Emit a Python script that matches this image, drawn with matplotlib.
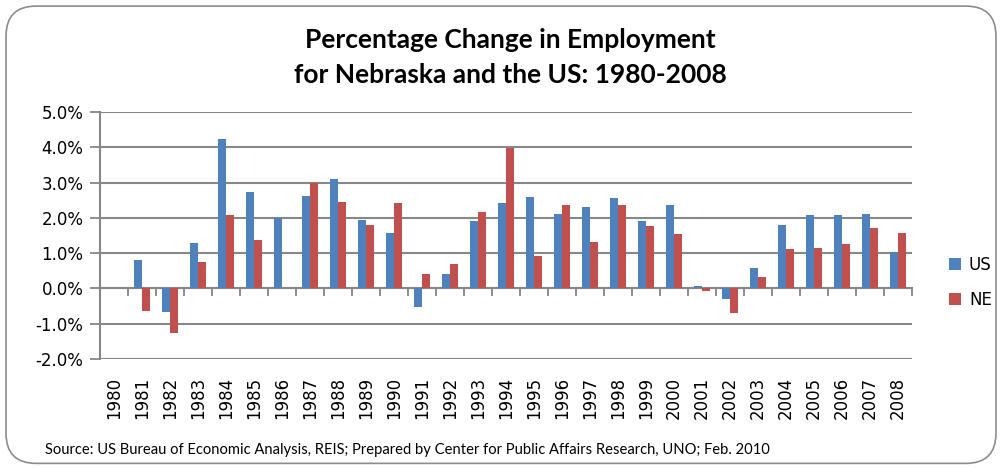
import matplotlib
matplotlib.use("Agg")
import matplotlib.pyplot as plt
from matplotlib.patches import FancyBboxPatch, Patch
from matplotlib.ticker import FuncFormatter
import numpy as np

years = list(range(1980, 2009))
us = [0.00, 0.80, -0.68, 1.28, 4.23, 2.72, 1.99, 2.62, 3.10, 1.94,
      1.58, -0.53, 0.40, 1.90, 2.43, 2.58, 2.11, 2.31, 2.55, 1.92,
      2.37, 0.08, -0.29, 0.58, 1.81, 2.08, 2.07, 2.11, 1.04]
ne = [0.00, -0.63, -1.25, 0.75, 2.09, 1.38, 0.00, 2.99, 2.46, 1.81,
      2.43, 0.42, 0.69, 2.17, 3.98, 0.92, 2.37, 1.33, 2.37, 1.76,
      1.54, -0.07, -0.69, 0.32, 1.12, 1.15, 1.26, 1.72, 1.56]

blue = "#4F81BD"
red = "#C0504D"
grid_c = "#878787"

fig = plt.figure(figsize=(10.02, 4.69), dpi=100)
fig.patch.set_facecolor("white")

# rounded chart border, kept behind the axes
frame = FancyBboxPatch((0.006, 0.012), 0.988, 0.975, boxstyle="round,pad=0,rounding_size=0.03",
                       transform=fig.transFigure, fc="white", ec="#8c8c8c", lw=1.2,
                       mutation_aspect=1002 / 469, zorder=-10)
fig.patches.append(frame)

ax = fig.add_axes([0.1, 0.2345, 0.81, 0.5267])
ax.set_facecolor("none")
x = np.arange(len(years))
w = 0.295
ax.bar(x - w / 2, us, w, color=blue, lw=0, zorder=3)
ax.bar(x + w / 2, ne, w, color=red, lw=0, zorder=3)

ax.set_xlim(-0.5, len(years) - 0.5)
ax.set_ylim(-2, 5)
ax.set_yticks(np.arange(-2, 5.01, 1))
ax.yaxis.set_major_formatter(FuncFormatter(lambda v, p: "%.1f%%" % v))
ax.grid(axis="y", color=grid_c, lw=1.5, zorder=0)
ax.tick_params(axis="y", length=7, width=1.3, color=grid_c, labelsize=12, pad=5)

ax.set_xticks(x)
ax.set_xticklabels([str(y) for y in years], rotation=90, fontsize=12)
ax.tick_params(axis="x", length=0, pad=13)

for s in ["top", "right", "bottom"]:
    ax.spines[s].set_visible(False)
ax.spines["left"].set_color(grid_c)
ax.spines["left"].set_linewidth(1.5)

# horizontal axis crossing at zero, with ticks between categories
zx = ax.secondary_xaxis(2 / 7)
zx.set_xticks(np.arange(-0.5, len(years), 1))
zx.set_xticklabels([])
zx.tick_params(axis="x", length=6, width=1.3, color=grid_c, direction="out")
zx.spines["bottom"].set_color(grid_c)
zx.spines["bottom"].set_linewidth(1.5)

handles = [Patch(fc=blue, ec="none"), Patch(fc=red, ec="none")]
fig.legend(handles, ["US", "NE"], loc="center left", bbox_to_anchor=(0.947, 0.398),
           frameon=False, fontsize=12, handlelength=0.75, handleheight=0.75,
           handletextpad=0.45, labelspacing=1.05, borderpad=0, borderaxespad=0)

fig.text(0.509, 0.915, "Percentage Change in Employment", ha="center", va="center",
         fontsize=19, fontweight="bold", family="Lato")
fig.text(0.509, 0.84, "for Nebraska and the US: 1980-2008", ha="center", va="center",
         fontsize=19, fontweight="bold", family="Lato")
fig.text(0.045, 0.04, "Source: US Bureau of Economic Analysis, REIS; Prepared by Center for Public Affairs Research, UNO; Feb. 2010",
         ha="left", va="center", fontsize=10.6, family="Lato")

fig.savefig("out.png", dpi=100)
